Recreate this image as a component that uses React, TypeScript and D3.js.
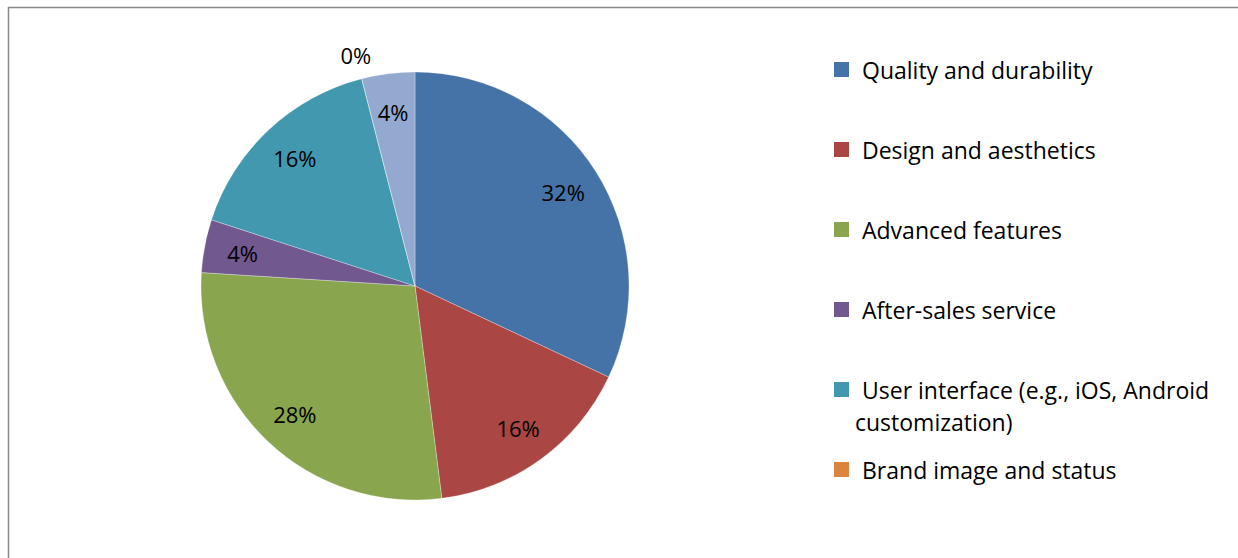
import React from "react";
import * as d3 from "d3";

const categories = [
  "Quality and durability",
  "Design and aesthetics",
  "Advanced features",
  "After-sales service",
  "User interface (e.g., iOS, Android customization)",
  "Brand image and status",
  "Other",
];
const values = [8, 4, 7, 1, 4, 0, 1];
const colors = ["#4572A7", "#AA4643", "#89A54E", "#71588F", "#4198AF", "#DB843D", "#93A9CF"];
const legendLines = [
  ["Quality and durability"],
  ["Design and aesthetics"],
  ["Advanced features"],
  ["After-sales service"],
  ["User interface (e.g., iOS, Android", "customization)"],
  ["Brand image and status"],
];

const W = 1238;
const H = 558;
const cx = 415;
const cy = 286;
const R = 214;
const FONT = "'Open Sans', Lato, sans-serif";

export default function App() {
  const total = d3.sum(values);
  const pie = d3.pie<number>().sort(null).value((d) => d)(values);
  const arc = d3.arc<d3.PieArcDatum<number>>().innerRadius(0).outerRadius(R);
  const labelArc = d3.arc<d3.PieArcDatum<number>>().innerRadius(R * 0.82).outerRadius(R * 0.82);
  const outArc = d3.arc<d3.PieArcDatum<number>>().innerRadius(R + 24).outerRadius(R + 24);
  const fmt = d3.format(".0%");
  const legendY = d3.scaleLinear().domain([0, 1]).range([69.5, 149.5]);

  return (
    <svg
      width={W}
      height={H}
      style={{ position: "absolute", left: 0, top: 0, background: "#fff" }}
    >
      <rect x={8.5} y={7.5} width={W + 20} height={H + 20} fill="#fff" stroke="#888" strokeWidth={1.5} />
      <g transform={`translate(${cx},${cy})`}>
        {pie.map((p, i) => (
          <path key={i} d={arc(p) || ""} fill={colors[i]} stroke="#fff" strokeWidth={0.3} />
        ))}
        {pie.map((p, i) => {
          const [x, y] = p.value === 0 ? outArc.centroid(p) : labelArc.centroid(p);
          return (
            <text
              key={i}
              x={x}
              y={y}
              textAnchor="middle"
              dominantBaseline="central"
              fontFamily={FONT}
              fontSize={22}
              fill="#000"
            >
              {fmt(p.value / total)}
            </text>
          );
        })}
      </g>
      <g>
        {legendLines.map((lines, i) => {
          const y = legendY(i);
          return (
            <g key={i}>
              <rect x={834} y={y - 7.5} width={15} height={15} fill={colors[i]} />
              {lines.map((t, j) => (
                <text
                  key={j}
                  x={j === 0 ? 862 : 855}
                  y={y + j * 32}
                  dominantBaseline="central"
                  fontFamily={FONT}
                  fontSize={23}
                  fill="#000"
                >
                  {t}
                </text>
              ))}
            </g>
          );
        })}
      </g>
    </svg>
  );
}
